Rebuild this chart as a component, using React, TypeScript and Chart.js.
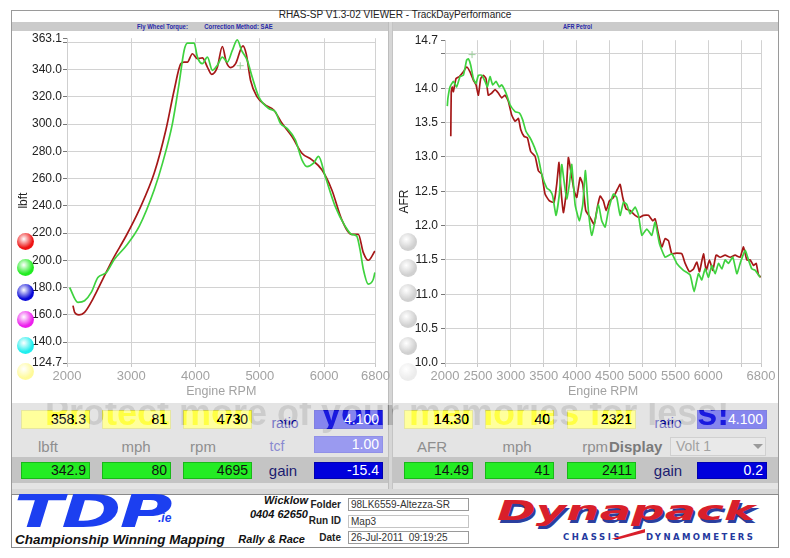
import React, { useEffect, useRef } from 'react';
import { Chart, registerables } from 'chart.js';

Chart.register(...registerables);

const FONT = '"Liberation Sans", Arial, Helvetica, sans-serif';
const LOGO_FONT = '"DejaVu Sans", Verdana, sans-serif';

// ---------- Torque chart data ----------
const TORQUE_RED_RPM = [2093, 2119, 2186, 2273, 2402, 2557, 2712, 2918, 3125, 3357, 3538, 3667, 3770, 3822, 3873, 3951, 4029, 4106, 4184, 4251, 4339, 4417, 4478, 4546, 4623, 4737, 4789, 4855, 4958, 5087, 5216, 5345, 5500, 5655, 5810, 5965, 6119, 6274, 6429, 6532, 6610, 6687, 6790];
const TORQUE_RED = [166.8, 161.9, 160, 161.9, 171.6, 186.2, 200.8, 217.9, 237.3, 264.1, 295.7, 324.9, 344.4, 345.6, 345.6, 351.7, 348, 348.7, 341.9, 336.6, 341.9, 357, 345.6, 341.5, 344.4, 357.5, 351.4, 332.2, 320, 314, 310.4, 300.6, 290.9, 278.7, 273.8, 266.5, 251.9, 230, 219.1, 219.1, 205.7, 200.1, 206.9];
const TORQUE_GREEN_RPM = [2041, 2170, 2273, 2377, 2480, 2609, 2738, 2918, 3125, 3357, 3486, 3641, 3744, 3822, 3873, 3977, 4029, 4106, 4184, 4262, 4339, 4417, 4494, 4572, 4649, 4716, 4804, 4881, 4984, 5139, 5242, 5320, 5423, 5552, 5655, 5733, 5836, 5913, 6017, 6171, 6326, 6429, 6507, 6558, 6610, 6687, 6765, 6790];
const TORQUE_GREEN = [180.1, 169.2, 170.4, 176.5, 187.4, 191, 200.8, 210.6, 225.2, 251.9, 271.4, 300.6, 329.8, 354.1, 359.5, 359.5, 349.2, 344.4, 349.2, 339.5, 343.2, 349.2, 345.6, 354.1, 361.9, 354.1, 346.8, 334.6, 320, 311.5, 309.1, 300.6, 296.9, 288.4, 273.8, 268.9, 271.4, 276.3, 261.7, 239.8, 225.2, 219.1, 217.9, 208.1, 193.5, 182.6, 186.2, 191.1];
const TORQUE_CURSOR = [4695, 342.9];
const TORQUE_X_TICKS = [2000, 3000, 4000, 5000, 6000, 6800];
const TORQUE_X_HIDDEN: number[] = [];
const TORQUE_Y_TICKS = [124.7, 140, 160, 180, 200, 220, 240, 260, 280, 300, 320, 340, 360, 363.1];
const TORQUE_Y_HIDDEN = [360];

// ---------- AFR chart data ----------
const AFR_RED_RPM = [2088, 2095, 2110, 2127, 2167, 2218, 2279, 2329, 2380, 2431, 2471, 2507, 2542, 2583, 2623, 2658, 2709, 2760, 2810, 2861, 2912, 2962, 3013, 3064, 3115, 3150, 3201, 3251, 3302, 3368, 3418, 3469, 3520, 3586, 3656, 3697, 3732, 3758, 3798, 3839, 3874, 3910, 3961, 4001, 4052, 4093, 4138, 4204, 4265, 4315, 4356, 4406, 4447, 4497, 4558, 4619, 4660, 4700, 4751, 4812, 4888, 4954, 5015, 5091, 5157, 5192, 5242, 5293, 5344, 5395, 5445, 5521, 5597, 5648, 5714, 5775, 5825, 5866, 5926, 5967, 6017, 6068, 6118, 6179, 6255, 6331, 6407, 6483, 6534, 6585, 6636, 6686, 6727, 6762, 6798];
const AFR_RED = [13.30, 13.95, 14.02, 13.95, 14.14, 14.17, 14.24, 14.31, 14.24, 14.12, 14.05, 13.90, 14.14, 14.19, 14.14, 13.90, 13.93, 13.98, 13.93, 13.86, 13.90, 13.81, 13.61, 13.52, 13.56, 13.40, 13.30, 13.28, 13.08, 13.01, 12.80, 12.75, 12.46, 12.36, 12.34, 12.60, 12.92, 12.56, 12.19, 12.46, 12.99, 12.80, 12.51, 12.41, 12.70, 12.60, 12.22, 12.12, 12.02, 12.27, 12.43, 12.36, 12.22, 12.36, 12.41, 12.53, 12.60, 12.41, 12.24, 12.22, 12.15, 12.12, 12.15, 12.15, 12.07, 12.10, 11.88, 11.69, 11.81, 11.78, 11.59, 11.60, 11.59, 11.45, 11.33, 11.37, 11.47, 11.33, 11.59, 11.35, 11.50, 11.35, 11.57, 11.54, 11.57, 11.54, 11.57, 11.54, 11.69, 11.50, 11.50, 11.42, 11.45, 11.28, 11.25];
const AFR_GREEN_RPM = [2035, 2045, 2076, 2127, 2177, 2228, 2279, 2329, 2355, 2390, 2431, 2471, 2507, 2557, 2608, 2643, 2684, 2724, 2775, 2826, 2861, 2927, 2988, 3064, 3130, 3180, 3231, 3292, 3342, 3383, 3418, 3469, 3545, 3596, 3636, 3687, 3737, 3773, 3808, 3849, 3889, 3925, 3976, 4041, 4093, 4133, 4178, 4229, 4280, 4330, 4381, 4432, 4482, 4558, 4609, 4660, 4711, 4761, 4812, 4888, 4939, 4990, 5065, 5141, 5192, 5257, 5344, 5445, 5521, 5622, 5724, 5784, 5850, 5901, 5951, 6002, 6053, 6103, 6154, 6205, 6255, 6306, 6372, 6433, 6483, 6559, 6610, 6661, 6712, 6787];
const AFR_GREEN = [13.74, 13.86, 14.02, 14.10, 14.02, 14.17, 14.19, 14.41, 14.43, 14.34, 14.14, 14.07, 14.19, 14.19, 14.10, 14.02, 14.17, 14.05, 14.10, 14.02, 14.05, 13.93, 13.76, 13.66, 13.64, 13.54, 13.37, 13.28, 13.18, 13.08, 12.99, 12.75, 12.55, 12.51, 12.43, 12.15, 12.46, 12.89, 12.65, 12.39, 12.60, 12.89, 12.31, 12.07, 12.31, 12.80, 12.22, 11.86, 12.07, 12.31, 12.07, 11.98, 12.22, 12.46, 12.41, 12.15, 12.34, 12.31, 12.17, 12.27, 12.15, 11.86, 11.95, 11.86, 12.05, 11.74, 11.54, 11.59, 11.45, 11.35, 11.28, 11.04, 11.30, 11.21, 11.37, 11.25, 11.42, 11.30, 11.45, 11.37, 11.50, 11.45, 11.54, 11.30, 11.45, 11.64, 11.50, 11.37, 11.35, 11.25];
const AFR_CURSOR = [2411, 14.49];
const AFR_X_TICKS = [2000, 2500, 3000, 3500, 4000, 4500, 5000, 5500, 6000, 6500, 6800];
const AFR_X_HIDDEN = [6500];
const AFR_Y_TICKS = [10.0, 10.5, 11.0, 11.5, 12.0, 12.5, 13.0, 13.5, 14.0, 14.5, 14.7];
const AFR_Y_HIDDEN = [14.5];

// ---------- Readout values ----------
const LEFT_CURSOR_VALUES = ['358.3', '81', '4730'];
const LEFT_LIVE_VALUES = ['342.9', '80', '4695'];
const LEFT_UNITS = ['lbft', 'mph', 'rpm'];
const LEFT_RATIO = '4.100';
const LEFT_TCF = '1.00';
const LEFT_GAIN = '-15.4';
const RIGHT_CURSOR_VALUES = ['14.30', '40', '2321'];
const RIGHT_LIVE_VALUES = ['14.49', '41', '2411'];
const RIGHT_RATIO = '4.100';
const RIGHT_GAIN = '0.2';

const RED = '#a51818';
const GREEN = '#3fd23f';

type ChartCfg = {
  redX: number[]; redY: number[]; greenX: number[]; greenY: number[];
  cursor: number[];
  xTicks: number[]; xHidden: number[];
  yTicks: number[]; yHidden: number[];
  yMin: number; yMax: number;
  yTitle: string; yWidth: number; padRight: number;
  tension: number; yLabelPad: number;
};

function toPoints(xs: number[], ys: number[]) {
  return xs.map((x, i) => ({ x, y: ys[i] }));
}

function buildConfig(c: ChartCfg): any {
  return {
    type: 'line',
    data: {
      datasets: [
        {
          data: [{ x: c.cursor[0], y: c.cursor[1] }],
          showLine: false,
          pointStyle: 'cross',
          pointRadius: 3.5,
          borderColor: '#9fcf9f',
          borderWidth: 1,
          order: 0,
        },
        {
          data: toPoints(c.greenX, c.greenY),
          borderColor: GREEN,
          borderWidth: 1.7,
          pointRadius: 0,
          tension: c.tension,
          cubicInterpolationMode: c.tension > 0.3 ? 'monotone' : 'default',
          order: 1,
        },
        {
          data: toPoints(c.redX, c.redY),
          borderColor: RED,
          borderWidth: 1.7,
          pointRadius: 0,
          tension: c.tension,
          cubicInterpolationMode: c.tension > 0.3 ? 'monotone' : 'default',
          order: 2,
        },
      ],
    },
    options: {
      animation: false,
      responsive: false,
      maintainAspectRatio: false,
      layout: { padding: { left: 0, right: c.padRight, top: 8, bottom: 0 } },
      plugins: { legend: { display: false }, tooltip: { enabled: false } },
      scales: {
        x: {
          type: 'linear',
          min: 2000,
          max: 6800,
          afterBuildTicks: (s: any) => { s.ticks = c.xTicks.map((v) => ({ value: v })); },
          afterFit: (s: any) => { s.height = 40; },
          ticks: {
            autoSkip: false,
            maxRotation: 0,
            padding: 2,
            color: '#a2a2a2',
            font: { family: FONT, size: 13 },
            callback: (v: any) => (c.xHidden.includes(Number(v)) ? '' : String(v)),
          },
          grid: { color: '#d2d2d2', tickColor: '#c8c8c8', tickLength: 4 },
          border: { color: '#cfcfcf' },
          title: {
            display: true,
            text: 'Engine RPM',
            color: '#a2a2a2',
            font: { family: FONT, size: 12.5 },
            padding: { top: 0, bottom: 4 },
          },
        },
        y: {
          type: 'linear',
          min: c.yMin,
          max: c.yMax,
          afterBuildTicks: (s: any) => { s.ticks = c.yTicks.map((v) => ({ value: v })); },
          afterFit: (s: any) => { s.width = c.yWidth; },
          ticks: {
            autoSkip: false,
            padding: c.yLabelPad,
            color: '#222',
            font: { family: FONT, size: 12 },
            callback: (v: any) => (c.yHidden.includes(Number(v)) ? '' : Number(v).toFixed(1)),
          },
          grid: {
            color: (ctx: any) => (ctx.tick && ctx.tick.value === c.yMax ? 'rgba(0,0,0,0)' : '#d2d2d2'),
            tickColor: '#777',
            tickLength: 4,
          },
          border: { color: '#cfcfcf' },
          title: {
            display: true,
            text: c.yTitle,
            color: '#222',
            font: { family: FONT, size: 12 },
            padding: { top: 4, bottom: 4 },
          },
        },
      },
    },
  };
}

function ChartCanvas({ left, top, width, height, cfg }: { left: number; top: number; width: number; height: number; cfg: ChartCfg }) {
  const ref = useRef<HTMLCanvasElement>(null);
  useEffect(() => {
    const chart = new Chart(ref.current as HTMLCanvasElement, buildConfig(cfg));
    return () => chart.destroy();
  }, []);
  return (
    <canvas
      ref={ref}
      width={width}
      height={height}
      style={{ position: 'absolute', left, top, width, height }}
    />
  );
}

const abs = (x: number, y: number, w: number, h: number, extra: any = {}) => ({
  position: 'absolute' as const, left: x, top: y, width: w, height: h, boxSizing: 'border-box' as const, ...extra,
});

function ValueBox({ x, y, w, h, bg, color, text, border }: any) {
  return (
    <div style={abs(x, y, w, h, {
      background: bg, color, border: `1px solid ${border}`, textAlign: 'right', paddingRight: 3,
      fontFamily: FONT, fontSize: 14, lineHeight: `${h - 2}px`,
    })}>{text}</div>
  );
}

function Label({ cx, cy, text, color, size = 14, bold = false }: any) {
  return (
    <div style={{
      position: 'absolute', left: cx - 40, top: cy - 10, width: 80, height: 20, textAlign: 'center',
      lineHeight: '20px', fontFamily: FONT, fontSize: size, color, fontWeight: bold ? 'bold' : 'normal',
    }}>{text}</div>
  );
}

function Dot({ cx, cy, color, d = 17 }: any) {
  return (
    <div style={{
      position: 'absolute', left: cx - d / 2, top: cy - d / 2, width: d, height: d, borderRadius: '50%',
      background: `radial-gradient(circle at 40% 35%, rgba(255,255,255,0.12), ${color} 60%)`,
    }} />
  );
}

const LEFT_DOT_COLORS = ['#ee1414', '#22ec22', '#0a0ad8', '#ec20ec', '#20eeee', '#fffa9a'];
const DOT_Y = [241.7, 267.7, 292.5, 319.3, 345.7, 371.7];

export default function App() {
  const torqueCfg: ChartCfg = {
    redX: TORQUE_RED_RPM, redY: TORQUE_RED, greenX: TORQUE_GREEN_RPM, greenY: TORQUE_GREEN,
    cursor: TORQUE_CURSOR,
    xTicks: TORQUE_X_TICKS, xHidden: TORQUE_X_HIDDEN, yTicks: TORQUE_Y_TICKS, yHidden: TORQUE_Y_HIDDEN,
    yMin: 124.7, yMax: 363.1, yTitle: 'lbft', yWidth: 55, padRight: 15, tension: 0.4, yLabelPad: 1,
  };
  const afrCfg: ChartCfg = {
    redX: AFR_RED_RPM, redY: AFR_RED, greenX: AFR_GREEN_RPM, greenY: AFR_GREEN,
    cursor: AFR_CURSOR,
    xTicks: AFR_X_TICKS, xHidden: AFR_X_HIDDEN, yTicks: AFR_Y_TICKS, yHidden: AFR_Y_HIDDEN,
    yMin: 10.0, yMax: 14.7, yTitle: 'AFR', yWidth: 52, padRight: 17, tension: 0.15, yLabelPad: 3,
  };

  const leftX = [21, 102, 183];
  const rightX = [404, 485, 567];

  return (
    <div style={{ position: 'absolute', left: 0, top: 0, width: 790, height: 558, background: '#fff', overflow: 'hidden', fontFamily: FONT }}>
      {/* window frame */}
      <div style={abs(11, 10, 768, 538, { border: '1px solid #9a9a9a', background: '#fff' })} />
      <div style={{ position: 'absolute', left: 0, top: 9, width: 790, textAlign: 'center', fontFamily: FONT, fontSize: 10, color: '#222' }}>
        RHAS-SP V1.3-02 VIEWER - TrackDayPerformance
      </div>
      {/* gray title band */}
      <div style={abs(12, 22, 766, 9, { background: '#cbcbcb' })} />
      <div style={{ position: 'absolute', left: 137, top: 22, height: 9, lineHeight: '9px', fontSize: 8, fontWeight: 'bold', color: '#2828a8', whiteSpace: 'nowrap', transform: 'scaleX(0.74)', transformOrigin: 'left top' }}>
        Fly Wheel Torque:&nbsp;&nbsp;&nbsp;&nbsp;&nbsp;&nbsp;&nbsp;&nbsp;&nbsp;&nbsp;Correction Method: SAE
      </div>
      <div style={{ position: 'absolute', left: 563, top: 22, height: 9, lineHeight: '9px', fontSize: 8, fontWeight: 'bold', color: '#2828a8', whiteSpace: 'nowrap', transform: 'scaleX(0.7)', transformOrigin: 'left top' }}>
        AFR Petrol
      </div>

      {/* chart panels */}
      <div style={abs(12, 31, 376, 372, { background: '#fff' })} />
      <div style={abs(388, 22, 5, 468, { background: '#d6d6d6', borderLeft: '1px solid #bdbdbd', borderRight: '1px solid #c4c4c4' })} />
      <div style={abs(393, 31, 385, 372, { background: '#fff' })} />

      <ChartCanvas left={12} top={30} width={380} height={373} cfg={torqueCfg} />
      <ChartCanvas left={393} top={30} width={385} height={373} cfg={afrCfg} />

      {LEFT_DOT_COLORS.map((c, i) => <Dot key={'l' + i} cx={25} cy={DOT_Y[i]} color={c} />)}
      {DOT_Y.map((y, i) => <Dot key={'r' + i} cx={408} cy={y} d={18} color={i === 5 ? '#ececec' : '#d0d0d0'} />)}

      {/* readout panel */}
      <div style={abs(12, 403, 376, 86, { background: '#e4e4e4' })} />
      <div style={abs(393, 403, 385, 86, { background: '#e4e4e4' })} />
      <div style={abs(12, 457, 376, 26, { background: '#c4c4c4' })} />
      <div style={abs(393, 457, 385, 26, { background: '#c4c4c4' })} />

      {leftX.map((x, i) => <ValueBox key={'ly' + i} x={x} y={410} w={69} h={19} bg="#ffff9c" border="#e6e6a0" color="#222" text={LEFT_CURSOR_VALUES[i]} />)}
      {leftX.map((x, i) => <Label key={'lu' + i} cx={x + 34 - (i === 0 ? 7 : 0) - (i === 2 ? 14 : 0)} cy={447} text={LEFT_UNITS[i]} color="#8e8e8e" size={15} />)}
      {leftX.map((x, i) => <ValueBox key={'lg' + i} x={x} y={462} w={69} h={17} bg="#24ec24" border="#18b818" color="#111" text={LEFT_LIVE_VALUES[i]} />)}
      <Label cx={285} cy={423} text="ratio" color="#7777c4" />
      <Label cx={277} cy={446} text="tcf" color="#8a8ad0" />
      <Label cx={283} cy={471} text="gain" color="#1c1c70" size={15} />
      <ValueBox x={314} y={410} w={69} h={19} bg="#8585ee" border="#8080e0" color="#fff" text={LEFT_RATIO} />
      <ValueBox x={314} y={436} w={69} h={17} bg="#9a9af0" border="#9090e8" color="#fff" text={LEFT_TCF} />
      <ValueBox x={314} y={462} w={69} h={17} bg="#0000dc" border="#0000b0" color="#fff" text={LEFT_GAIN} />

      {rightX.map((x, i) => <ValueBox key={'ry' + i} x={x} y={410} w={69} h={19} bg="#ffff9c" border="#e6e6a0" color="#222" text={RIGHT_CURSOR_VALUES[i]} />)}
      <Label cx={432} cy={447} text="AFR" color="#8e8e8e" size={15} />
      <Label cx={517} cy={447} text="mph" color="#8e8e8e" size={15} />
      <div style={{ position: 'absolute', left: 560, top: 437, width: 48, height: 20, lineHeight: '20px', textAlign: 'right', fontSize: 15, color: '#8e8e8e' }}>rpm</div>
      <div style={{ position: 'absolute', left: 609, top: 437, height: 20, lineHeight: '20px', fontSize: 15, fontWeight: 'bold', color: '#7a7a7a' }}>Display</div>
      <div style={abs(670, 437, 96, 19, { background: '#e9e9e9', border: '1px solid #d0d0d0', color: '#a2a2a2', fontSize: 14, lineHeight: '17px', paddingLeft: 5 })}>Volt 1</div>
      <div style={{ position: 'absolute', left: 753, top: 444, width: 0, height: 0, borderLeft: '5px solid transparent', borderRight: '5px solid transparent', borderTop: '5px solid #9a9a9a' }} />
      {rightX.map((x, i) => <ValueBox key={'rg' + i} x={x} y={462} w={69} h={17} bg="#24ec24" border="#18b818" color="#111" text={RIGHT_LIVE_VALUES[i]} />)}
      <Label cx={668} cy={423} text="ratio" color="#7777c4" />
      <Label cx={668} cy={471} text="gain" color="#1c1c70" size={15} />
      <ValueBox x={697} y={410} w={70} h={19} bg="#8585ee" border="#8080e0" color="#fff" text={RIGHT_RATIO} />
      <ValueBox x={697} y={462} w={70} h={17} bg="#0000dc" border="#0000b0" color="#fff" text={RIGHT_GAIN} />

      {/* watermark */}
      <div style={{ position: 'absolute', left: 45, top: 395, whiteSpace: 'nowrap', fontFamily: FONT, fontWeight: 'bold', fontSize: 36, lineHeight: '36px', color: 'rgb(135,135,135)', mixBlendMode: 'color-burn', pointerEvents: 'none' }}>
        Protect more of your memories for less!
      </div>

      {/* footer */}
      <div style={abs(12, 489, 766, 5, { background: '#d8d8d8' })} />
      <div style={abs(11, 494, 768, 54, { background: '#fff', border: '1px solid #8a8a8a' })} />

      <div style={{ position: 'absolute', left: 14, top: 489, fontFamily: LOGO_FONT, fontWeight: 'bold', fontStyle: 'italic', fontSize: 45, lineHeight: '45px', color: '#1c3ff0', transform: 'scaleX(1.6)', transformOrigin: 'left top', letterSpacing: -1 }}>TDP</div>
      <div style={{ position: 'absolute', left: 158, top: 511, fontFamily: FONT, fontWeight: 'bold', fontStyle: 'italic', fontSize: 12, color: '#1c3ff0' }}>.ie</div>
      <div style={{ position: 'absolute', left: 15, top: 532, fontFamily: FONT, fontWeight: 'bold', fontStyle: 'italic', fontSize: 13.5, color: '#111', whiteSpace: 'nowrap' }}>Championship Winning Mapping</div>

      <div style={{ position: 'absolute', left: 200, width: 108, top: 494, textAlign: 'right', fontFamily: FONT, fontWeight: 'bold', fontStyle: 'italic', fontSize: 11, color: '#111' }}>Wicklow</div>
      <div style={{ position: 'absolute', left: 200, width: 108, top: 508, textAlign: 'right', fontFamily: FONT, fontWeight: 'bold', fontStyle: 'italic', fontSize: 11, color: '#111' }}>0404 62650</div>
      <div style={{ position: 'absolute', left: 200, width: 105, top: 533, textAlign: 'right', fontFamily: FONT, fontWeight: 'bold', fontStyle: 'italic', fontSize: 11, color: '#111' }}>Rally &amp; Race</div>

      <div style={{ position: 'absolute', left: 290, width: 51, top: 499, textAlign: 'right', fontFamily: FONT, fontWeight: 'bold', fontSize: 10, color: '#222' }}>Folder</div>
      <div style={{ position: 'absolute', left: 290, width: 51, top: 515, textAlign: 'right', fontFamily: FONT, fontWeight: 'bold', fontSize: 10, color: '#222' }}>Run ID</div>
      <div style={{ position: 'absolute', left: 290, width: 51, top: 532, textAlign: 'right', fontFamily: FONT, fontWeight: 'bold', fontSize: 10, color: '#222' }}>Date</div>
      <div style={abs(348, 498, 121, 13, { border: '1px solid #9a9a9a', fontSize: 10, lineHeight: '11px', paddingLeft: 2, color: '#333', whiteSpace: 'nowrap' })}>98LK6559-Altezza-SR</div>
      <div style={abs(348, 515, 121, 13, { border: '1px solid #c4c4c4', fontSize: 10, lineHeight: '11px', paddingLeft: 2, color: '#333' })}>Map3</div>
      <div style={abs(348, 531, 121, 13, { border: '1px solid #9a9a9a', fontSize: 10, lineHeight: '11px', paddingLeft: 2, color: '#333', whiteSpace: 'pre' })}>{'26-Jul-2011  09:19:25'}</div>

      <div style={{ position: 'absolute', left: 497, top: 496, fontFamily: LOGO_FONT, fontWeight: 'bold', fontStyle: 'italic', fontSize: 26, lineHeight: '30px', color: '#d91f2b', transform: 'scaleX(1.8)', transformOrigin: 'left top', textShadow: '1px 3px 0 #2b3f9f', whiteSpace: 'nowrap' }}>Dynapack</div>
      <div style={{ position: 'absolute', left: 563, top: 532, fontFamily: LOGO_FONT, fontWeight: 'bold', fontSize: 8.5, letterSpacing: 2.6, color: '#24399e' }}>CHASSIS</div>
      <div style={{ position: 'absolute', left: 611, top: 529, width: 34, height: 10, background: '#d91f2b', clipPath: 'polygon(0% 100%, 100% 0%, 100% 35%, 25% 100%)' }} />
      <div style={{ position: 'absolute', left: 646, top: 532, fontFamily: LOGO_FONT, fontWeight: 'bold', fontSize: 8.5, letterSpacing: 2.4, color: '#24399e' }}>DYNAMOMETERS</div>
    </div>
  );
}
